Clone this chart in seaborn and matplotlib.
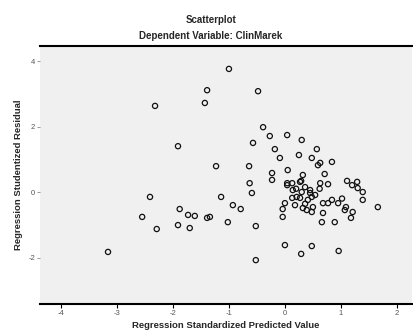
import pandas as pd
import seaborn as sns
import matplotlib
matplotlib.use("Agg")
import matplotlib.pyplot as plt

# Regression standardized predicted value (x) and studentized residual (y)
pred = [-1.00, -1.39, -1.43, -2.32, -0.48, -1.91, -1.23, -0.57, -0.64, -0.27,
        -0.39, 0.04, 0.30, 0.57, -0.18, 0.25, -0.09, 0.48, 0.63, 0.84,
        0.05, -0.23, -0.23, 0.71, -0.63, 0.29, 0.63, 0.77, 1.11, 1.20,
        1.30, 1.39, 0.04, 0.14, 0.30, 0.45, 0.13, 0.27, 0.48, -0.59,
        0.68, 0.84, 0.95, 1.09, 1.39, 1.66, -0.04, 0.32, 0.48, 0.68,
        -0.04, 0.66, 0.89, 1.18, 1.21, -0.79, -0.52, 0.00, 0.48, 0.29,
        0.96, -0.52, -1.14, -0.93, -1.34, -1.02, -2.41, -1.88, -1.61, -1.73,
        -1.39, -1.91, -1.70, -2.29, -2.55, -3.16, 0.32, 0.36, 0.50, 0.39,
        1.07, 0.41, 0.21, 0.45, 0.54, 0.27, 0.59, 0.77, 0.13, 1.29,
        0.18, 0.00, 0.04, 0.20, 0.62, 0.36, 1.02]
resid = [3.76, 3.11, 2.72, 2.63, 3.08, 1.40, 0.79, 1.50, 0.79, 1.71,
         1.98, 1.74, 1.59, 1.31, 1.31, 1.13, 1.04, 1.04, 0.89, 0.92,
         0.67, 0.58, 0.37, 0.55, 0.27, 0.34, 0.27, 0.24, 0.34, 0.21,
         0.12, 0.00, 0.21, 0.06, 0.00, -0.03, -0.18, -0.18, -0.15, -0.03,
         -0.34, -0.24, -0.34, -0.46, -0.24, -0.46, -0.52, -0.49, -0.61, -0.64,
         -0.76, -0.92, -0.92, -0.79, -0.61, -0.52, -1.04, -1.62, -1.65, -1.89,
         -1.80, -2.08, -0.15, -0.40, -0.76, -0.92, -0.15, -0.52, -0.73, -0.70,
         -0.79, -1.01, -1.10, -1.13, -0.76, -1.83, 0.52, 0.15, -0.46, -0.55,
         -0.55, -0.24, -0.15, 0.06, -0.09, 0.31, 0.82, -0.34, 0.27, 0.31,
         -0.40, -0.34, 0.27, 0.10, 0.10, -0.36, -0.20]

x_ticks = [-4, -3, -2, -1, 0, 1, 2]
y_ticks = [-2, 0, 2, 4]

df = pd.DataFrame({"pred": pred, "resid": resid})

sns.set_theme(style="white")
plt.rcParams["font.family"] = ["Liberation Sans", "DejaVu Sans"]

fig = plt.figure(figsize=(4.14, 3.35), dpi=100)
ax = fig.add_axes([40 / 414, 31 / 335, 372 / 414, 258 / 335])
ax.set_facecolor("#f0f0f0")

sns.scatterplot(data=df, x="pred", y="resid", ax=ax, s=14,
                facecolor="none", edgecolor="#111111", linewidth=0.9, marker="o")

ax.set_xlim(-4.375, 2.27)
ax.set_ylim(-3.42, 4.46)
ax.set_xticks(x_ticks)
ax.set_yticks(y_ticks)
ax.set_xticklabels([str(t) for t in x_ticks], fontsize=5.5, color="#555555")
ax.set_yticklabels([str(t) for t in y_ticks], fontsize=5.5, color="#555555")
ax.tick_params(axis="x", direction="out", length=3, width=0.8, color="black", pad=1.5, bottom=True)
ax.tick_params(axis="y", direction="out", length=2, width=0.6, color="#888888", pad=1.5, left=True)

for side in ["left", "right"]:
    ax.spines[side].set_visible(False)
for side in ["top", "bottom"]:
    ax.spines[side].set_visible(True)
    ax.spines[side].set_color("black")
    ax.spines[side].set_linewidth(1.5)

ax.set_xlabel("Regression Standardized Predicted Value", fontsize=6.8, fontweight="bold", labelpad=3)
ax.set_ylabel("Regression Studentized Residual", fontsize=6.8, fontweight="bold", labelpad=4)

fig.text(211 / 414, 1 - 20 / 335, "Scatterplot", ha="center", va="center", fontsize=7, fontweight="bold")
fig.text(211 / 414, 1 - 36 / 335, "Dependent Variable: ClinMarek", ha="center", va="center",
         fontsize=7, fontweight="bold")

fig.savefig("out.png", dpi=100)
